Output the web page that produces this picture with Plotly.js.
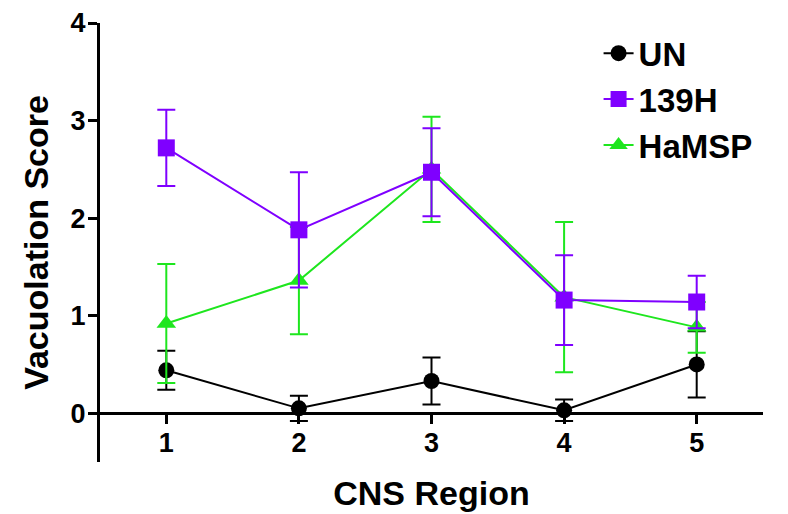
<!DOCTYPE html>
<html>
<head>
<meta charset="utf-8">
<script src="https://cdn.plot.ly/plotly-3.0.1.min.js"></script>
<style>html,body{margin:0;padding:0;background:#fff;}#chart{width:788px;height:514px;}</style>
</head>
<body>
<div id="chart"></div>
<script>
const regions = [1, 2, 3, 4, 5];
const unMean = [0.44, 0.05, 0.33, 0.03, 0.50];
const unErr = [0.20, 0.13, 0.24, 0.11, 0.34];
const h139Mean = [2.72, 1.88, 2.47, 1.16, 1.14];
const h139Err = [0.39, 0.59, 0.45, 0.46, 0.27];
const hamspMean = [0.92, 1.36, 2.50, 1.19, 0.88];
const hamspErr = [0.61, 0.55, 0.54, 0.77, 0.26];
const seriesNames = ['UN', '139H', 'HaMSP'];
const tickVals = [0, 1, 2, 3, 4];

const FONT = 'Liberation Sans, Arial, sans-serif';
const BLACK = '#000000';
const PURPLE = '#7f00ff';
const GREEN = '#1ee61e';

function series(name, y, err, color, symbol, size, rank) {
  return {
    type: 'scatter', mode: 'lines+markers', name: name,
    x: regions, y: y,
    error_y: {type: 'data', array: err, visible: true, color: color, thickness: 2, width: 9},
    line: {color: color, width: 2},
    marker: {color: color, symbol: symbol, size: size},
    legendrank: rank, cliponaxis: false
  };
}

const data = [
  series(seriesNames[0], unMean, unErr, BLACK, 'circle', 16, 1),
  series(seriesNames[2], hamspMean, hamspErr, GREEN, 'triangle-up', 17, 3),
  series(seriesNames[1], h139Mean, h139Err, PURPLE, 'square', 17, 2)
];

const layout = {
  width: 788, height: 514,
  margin: {l: 100, r: 25, t: 23, b: 52},
  paper_bgcolor: '#fff', plot_bgcolor: '#fff',
  showlegend: true,
  legend: {x: 0.752, y: 0.995, xanchor: 'left', yanchor: 'top',
    font: {family: FONT, size: 33, weight: 700, color: BLACK},
    bgcolor: 'rgba(0,0,0,0)', tracegroupgap: 0},
  xaxis: {
    range: [0.5, 5.5], anchor: 'free', position: 0.5 / 4.5,
    tickvals: regions, ticktext: regions.map(String),
    showline: true, linecolor: BLACK, linewidth: 3,
    ticks: 'outside', ticklen: 9, tickwidth: 3, tickcolor: BLACK,
    ticklabelstandoff: -5,
    showgrid: false, zeroline: false,
    tickfont: {family: FONT, size: 27, weight: 700, color: BLACK},
    title: {text: 'CNS Region', standoff: 24, font: {family: FONT, size: 34, weight: 700, color: BLACK}}
  },
  yaxis: {
    range: [-0.5, 4], domain: [0, 1],
    tickvals: tickVals, ticktext: tickVals.map(String),
    showline: true, linecolor: BLACK, linewidth: 3,
    ticks: 'outside', ticklen: 9, tickwidth: 3, tickcolor: BLACK,
    ticklabelstandoff: -3,
    showgrid: false, zeroline: false,
    tickfont: {family: FONT, size: 27, weight: 700, color: BLACK},
    title: {text: 'Vacuolation Score', standoff: 12, font: {family: FONT, size: 34, weight: 700, color: BLACK}}
  }
};

Plotly.newPlot('chart', data, layout, {staticPlot: true, displayModeBar: false});
</script>
</body>
</html>
